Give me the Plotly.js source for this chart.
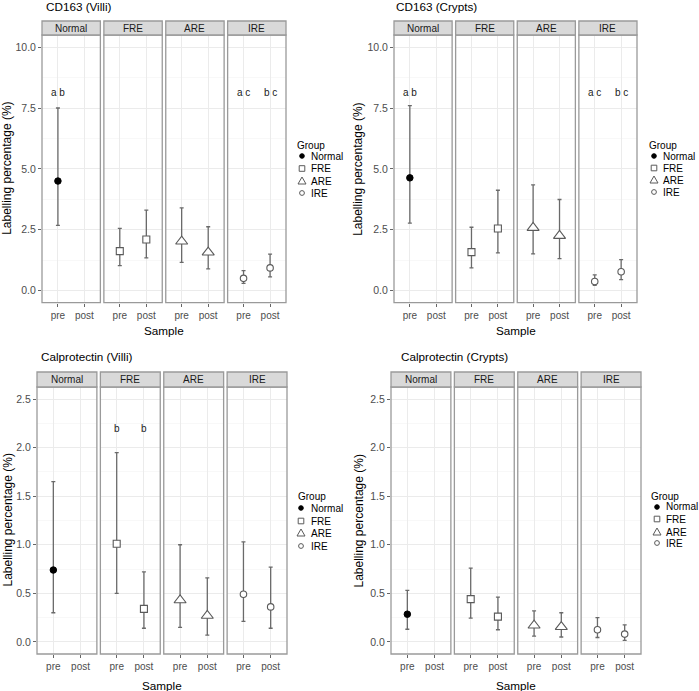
<!DOCTYPE html>
<html><head><meta charset="utf-8">
<script src="https://cdn.plot.ly/plotly-3.0.1.min.js"></script>
<style>html,body{margin:0;padding:0;background:#fff}</style>
</head><body><div id="chart" style="width:699px;height:691px"></div>
<script>
// ---------- DATA ----------
const groups = ['Normal', 'FRE', 'ARE', 'IRE'];
const samples = ['pre', 'post'];
const panelTitles = ['CD163 (Villi)', 'CD163 (Crypts)', 'Calprotectin (Villi)', 'Calprotectin (Crypts)'];

// rows = groups (Normal, FRE, ARE, IRE); columns = samples (pre, post)
const cd163VilliMean  = [[4.50, null], [1.62, 2.10], [2.02, 1.57], [0.50, 0.93]];
const cd163VilliLower = [[2.68, null], [1.02, 1.34], [1.16, 0.89], [0.29, 0.56]];
const cd163VilliUpper = [[7.50, null], [2.55, 3.30], [3.40, 2.62], [0.82, 1.50]];
const cd163VilliLetters = [['a b', ''], ['', ''], ['', ''], ['a c', 'b c']];

const cd163CryptsMean  = [[4.63, null], [1.58, 2.55], [2.58, 2.25], [0.37, 0.77]];
const cd163CryptsLower = [[2.77, null], [0.93, 1.55], [1.51, 1.31], [0.21, 0.45]];
const cd163CryptsUpper = [[7.60, null], [2.60, 4.12], [4.34, 3.74], [0.64, 1.27]];
const cd163CryptsLetters = [['a b', ''], ['', ''], ['', ''], ['a c', 'b c']];

const calproVilliMean  = [[0.74, null], [1.01, 0.34], [0.43, 0.27], [0.49, 0.36]];
const calproVilliLower = [[0.30, null], [0.50, 0.14], [0.15, 0.07], [0.21, 0.14]];
const calproVilliUpper = [[1.65, null], [1.95, 0.72], [1.00, 0.66], [1.03, 0.77]];
const calproVilliLetters = [['', ''], ['b', 'b'], ['', ''], ['', '']];

const calproCryptsMean  = [[0.285, null], [0.44, 0.26], [0.17, 0.155], [0.125, 0.08]];
const calproCryptsLower = [[0.13, null], [0.245, 0.125], [0.06, 0.05], [0.045, 0.015]];
const calproCryptsUpper = [[0.53, null], [0.76, 0.46], [0.32, 0.30], [0.25, 0.175]];
const calproCryptsLetters = [['', ''], ['', ''], ['', ''], ['', '']];

const cd163YTicks = [0, 2.5, 5, 7.5, 10];
const cd163YTickText = ['0.0', '2.5', '5.0', '7.5', '10.0'];
const cd163YMinor = [1.25, 3.75, 6.25, 8.75];
const calproYTicks = [0, 0.5, 1, 1.5, 2, 2.5];
const calproYTickText = ['0.0', '0.5', '1.0', '1.5', '2.0', '2.5'];
const calproYMinor = [0.25, 0.75, 1.25, 1.75, 2.25];

// ---------- LAYOUT / STYLE ----------
const W = 699, H = 691;
const FONT = 'Liberation Sans, Arial, Helvetica, sans-serif';
const px = v => v / W;
const py = v => 1 - v / H;

const panels = [
  {mean: cd163VilliMean, lo: cd163VilliLower, hi: cd163VilliUpper, letters: cd163VilliLetters, letterY: 8.15,
   ticks: cd163YTicks, tickText: cd163YTickText, minor: cd163YMinor, range: [-0.5, 10.5],
   box: {l: 42, r: 286, st: 21, sb: 35, b: 302.7}, titleX: 44, titleY: 7, yTitleX: 7, sampleY: 330,
   leg: {x: 295, y: 145, symX: 302, textX: 309, items: [156, 168.5, 181, 193], size: 10}},
  {mean: cd163CryptsMean, lo: cd163CryptsLower, hi: cd163CryptsUpper, letters: cd163CryptsLetters, letterY: 8.15,
   ticks: cd163YTicks, tickText: cd163YTickText, minor: cd163YMinor, range: [-0.5, 10.5],
   box: {l: 394, r: 637, st: 21, sb: 35, b: 302.7}, titleX: 394, titleY: 7, yTitleX: 358, sampleY: 330,
   leg: {x: 647, y: 145, symX: 654, textX: 661, items: [156, 168, 180, 192], size: 10}},
  {mean: calproVilliMean, lo: calproVilliLower, hi: calproVilliUpper, letters: calproVilliLetters, letterY: 2.2,
   ticks: calproYTicks, tickText: calproYTickText, minor: calproYMinor, range: [-0.125, 2.625],
   box: {l: 37, r: 287, st: 372, sb: 387, b: 654}, titleX: 39, titleY: 357, yTitleX: 7, sampleY: 685,
   leg: {x: 296, y: 496, symX: 301, textX: 309, items: [508, 521, 533, 546], size: 10}},
  {mean: calproCryptsMean, lo: calproCryptsLower, hi: calproCryptsUpper, letters: calproCryptsLetters, letterY: 2.2,
   ticks: calproYTicks, tickText: calproYTickText, minor: calproYMinor, range: [-0.125, 2.625],
   box: {l: 391, r: 641, st: 372, sb: 387, b: 654}, titleX: 399, titleY: 357, yTitleX: 358, sampleY: 685,
   leg: {x: 649, y: 496, symX: 657, textX: 664, items: [507, 519, 532, 543], size: 10}}
];

const GAP = 3.5;
const BORDER = '#9a9a9a';
const markerStyle = [
  {symbol: 'circle', size: 6.5, color: '#000000', line: {color: '#000000', width: 1}},
  {symbol: 'square', size: 7, color: '#ffffff', line: {color: '#5a5a5a', width: 1.1}},
  {symbol: 'triangle-up', size: 10.5, color: '#ffffff', line: {color: '#5a5a5a', width: 1.1}},
  {symbol: 'circle', size: 6.5, color: '#ffffff', line: {color: '#5a5a5a', width: 1.1}}
];

const data = [];
const layout = {
  width: W, height: H, margin: {l: 0, r: 0, t: 0, b: 0},
  paper_bgcolor: '#ffffff', plot_bgcolor: '#ffffff', showlegend: false,
  font: {family: FONT, size: 10, color: '#4d4d4d'},
  annotations: [], shapes: []
};

panels.forEach((p, pi) => {
  const bx = p.box;
  const fw = (bx.r - bx.l - 3 * GAP) / 4;
  groups.forEach((g, gi) => {
    const k = pi * 4 + gi + 1;
    const x0 = bx.l + gi * (fw + GAP), x1 = x0 + fw;
    layout['xaxis' + k] = {
      domain: [px(x0), px(x1)], anchor: 'y' + k, type: 'category',
      categoryorder: 'array', categoryarray: samples, range: [-0.6, 1.6],
      showgrid: true, gridcolor: '#ebebeb', gridwidth: 1, zeroline: false, showline: false,
      ticks: 'outside', ticklen: 3, tickwidth: 1, tickcolor: '#666',
      tickfont: {family: FONT, size: 10, color: '#4d4d4d'}, fixedrange: true
    };
    layout['yaxis' + k] = {
      domain: [py(bx.b), py(bx.sb)], anchor: 'x' + k, range: p.range,
      tickmode: 'array', tickvals: p.ticks, ticktext: p.tickText,
      showticklabels: gi === 0, ticks: gi === 0 ? 'outside' : '', ticklen: 3, tickwidth: 1, tickcolor: '#666',
      tickfont: {family: FONT, size: 10.5, color: '#4d4d4d'},
      showgrid: true, gridcolor: '#ebebeb', gridwidth: 1, zeroline: false, showline: false,
      minor: {tickmode: 'array', tickvals: p.minor, showgrid: true, gridcolor: '#f4f4f4', gridwidth: 0.6, ticks: ''},
      fixedrange: true
    };
    const m = p.mean[gi], lo = p.lo[gi], hi = p.hi[gi];
    data.push({
      type: 'scatter', mode: 'markers', x: samples, y: m,
      xaxis: 'x' + k, yaxis: 'y' + k, name: g, showlegend: false, cliponaxis: false,
      error_y: {
        type: 'data', symmetric: false, visible: true,
        array: m.map((v, i) => v == null ? null : hi[i] - v),
        arrayminus: m.map((v, i) => v == null ? null : v - lo[i]),
        color: '#6a6a6a', thickness: 1.3, width: 2
      },
      marker: markerStyle[gi]
    });
    samples.forEach((s, si) => {
      const t = p.letters[gi][si];
      if (t) layout.annotations.push({
        xref: 'x' + k, yref: 'y' + k, x: s, y: p.letterY, text: t, showarrow: false,
        font: {family: FONT, size: 10, color: '#1a1a1a'}, xanchor: 'center', yanchor: 'middle'
      });
    });
    layout.shapes.push({type: 'rect', xref: 'paper', yref: 'paper',
      x0: px(x0), x1: px(x1), y0: py(bx.b), y1: py(bx.sb),
      fillcolor: 'rgba(0,0,0,0)', line: {color: BORDER, width: 1.3}, layer: 'above'});
    layout.shapes.push({type: 'rect', xref: 'paper', yref: 'paper',
      x0: px(x0), x1: px(x1), y0: py(bx.sb), y1: py(bx.st),
      fillcolor: '#d9d9d9', line: {color: BORDER, width: 1.3}, layer: 'above'});
    layout.annotations.push({xref: 'paper', yref: 'paper', x: px((x0 + x1) / 2), y: py((bx.st + bx.sb) / 2),
      text: g, showarrow: false, xanchor: 'center', yanchor: 'middle',
      font: {family: FONT, size: 10, color: '#1a1a1a'}});
  });
  layout.annotations.push({xref: 'paper', yref: 'paper', x: px(p.titleX), y: py(p.titleY),
    text: panelTitles[pi], showarrow: false, xanchor: 'left', yanchor: 'middle',
    font: {family: FONT, size: 11.7, color: '#000'}});
  layout.annotations.push({xref: 'paper', yref: 'paper', x: px((bx.l + bx.r) / 2), y: py(p.sampleY),
    text: 'Sample', showarrow: false, xanchor: 'center', yanchor: 'middle',
    font: {family: FONT, size: 11.7, color: '#000'}});
  layout.annotations.push({xref: 'paper', yref: 'paper', x: px(p.yTitleX), y: py((bx.sb + bx.b) / 2),
    text: 'Labelling percentage (%)', showarrow: false, textangle: -90, xanchor: 'center', yanchor: 'middle',
    font: {family: FONT, size: 12, color: '#000'}});
  const L = p.leg;
  layout.annotations.push({xref: 'paper', yref: 'paper', x: px(L.x), y: py(L.y), text: 'Group',
    showarrow: false, xanchor: 'left', yanchor: 'middle', font: {family: FONT, size: L.size, color: '#000'}});
  groups.forEach((g, gi) => {
    const cy = L.items[gi], cx = L.symX;
    layout.annotations.push({xref: 'paper', yref: 'paper', x: px(L.textX), y: py(cy), text: g,
      showarrow: false, xanchor: 'left', yanchor: 'middle', font: {family: FONT, size: L.size, color: '#000'}});
    if (gi === 0) {
      layout.shapes.push({type: 'circle', xref: 'paper', yref: 'paper', x0: px(cx - 2.3), x1: px(cx + 2.3),
        y0: py(cy + 2.3), y1: py(cy - 2.3), fillcolor: '#000', line: {color: '#000', width: 1}});
    } else if (gi === 1) {
      layout.shapes.push({type: 'rect', xref: 'paper', yref: 'paper', x0: px(cx - 2.8), x1: px(cx + 2.8),
        y0: py(cy + 2.8), y1: py(cy - 2.8), fillcolor: 'rgba(0,0,0,0)', line: {color: '#5a5a5a', width: 1}});
    } else if (gi === 2) {
      const pth = 'M ' + px(cx - 4) + ',' + py(cy + 3) + ' L ' + px(cx + 4) + ',' + py(cy + 3) +
        ' L ' + px(cx) + ',' + py(cy - 4) + ' Z';
      layout.shapes.push({type: 'path', xref: 'paper', yref: 'paper', path: pth,
        fillcolor: 'rgba(0,0,0,0)', line: {color: '#5a5a5a', width: 1}});
    } else {
      layout.shapes.push({type: 'circle', xref: 'paper', yref: 'paper', x0: px(cx - 2.4), x1: px(cx + 2.4),
        y0: py(cy + 2.4), y1: py(cy - 2.4), fillcolor: 'rgba(0,0,0,0)', line: {color: '#5a5a5a', width: 1}});
    }
  });
});

Plotly.newPlot('chart', data, layout, {displayModeBar: false, staticPlot: true});
</script>
</body></html>
